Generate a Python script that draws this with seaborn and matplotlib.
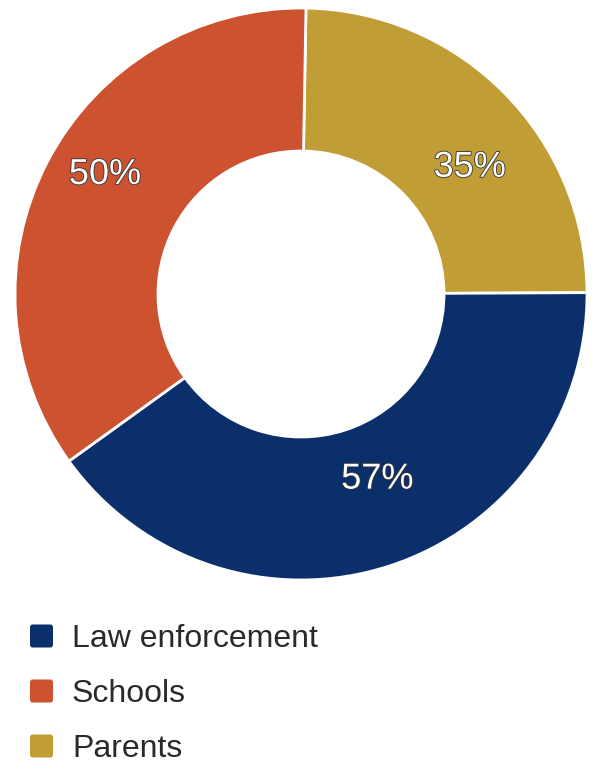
import matplotlib
matplotlib.use("Agg")
import matplotlib.pyplot as plt
import matplotlib.patheffects as pe
from matplotlib.patches import FancyBboxPatch
import numpy as np
import seaborn as sns

categories = ["Law enforcement", "Schools", "Parents"]
values = [57, 50, 35]
colors = ["#0a2f6b", "#cd5230", "#c19d35"]

# drawing order around the ring (clockwise from the top)
order = ["Parents", "Law enforcement", "Schools"]

sns.set_theme(style="white")
plt.rcParams["font.family"] = ["Liberation Sans", "DejaVu Sans"]

W, H = 597, 762
fig = plt.figure(figsize=(W / 100, H / 100), dpi=100)

cx, cy, R = 301, 294, 286
ax = fig.add_axes([(cx - R) / W, (H - cy - R) / H, 2 * R / W, 2 * R / H])

vals = [values[categories.index(c)] for c in order]
cols = [colors[categories.index(c)] for c in order]

wedges, _ = ax.pie(
    vals, colors=cols, startangle=89, counterclock=False, radius=1.0,
    wedgeprops=dict(width=0.5, edgecolor="white", linewidth=2),
)
ax.set_xlim(-1, 1)
ax.set_ylim(-1, 1)
ax.set_aspect("equal")
ax.axis("off")

# small per-label nudges away from the segment midpoint
nudge = {"Parents": (0.056, -0.084),
         "Law enforcement": (0.035, 0.066),
         "Schools": (-0.021, 0.07)}

# percentage labels placed in each ring segment
total = sum(vals)
angle = 89.0
for name, v in zip(order, vals):
    span = 360.0 * v / total
    mid = np.deg2rad(angle - span / 2)
    angle -= span
    dx, dy = nudge[name]
    ax.text(0.75 * np.cos(mid) + dx, 0.75 * np.sin(mid) + dy, f"{v}%",
            ha="center", va="center", color="white", fontsize=26,
            path_effects=[pe.withStroke(linewidth=1.2, foreground="#333333")])

# legend with rounded square swatches
legend_y = [636, 691, 746]
for name, col, y in zip(categories, colors, legend_y):
    s = 23
    fig.patches.append(FancyBboxPatch(
        ((30) / W, (H - y - s / 2) / H), s / W, s / H,
        boxstyle="round,pad=0,rounding_size=0.004",
        transform=fig.transFigure, facecolor=col, edgecolor="none"))
    fig.text(72 / W, (H - y - 11) / H, name, ha="left", va="baseline",
             fontsize=23, color="#2a2a2a")

fig.savefig("out.png", dpi=100)
